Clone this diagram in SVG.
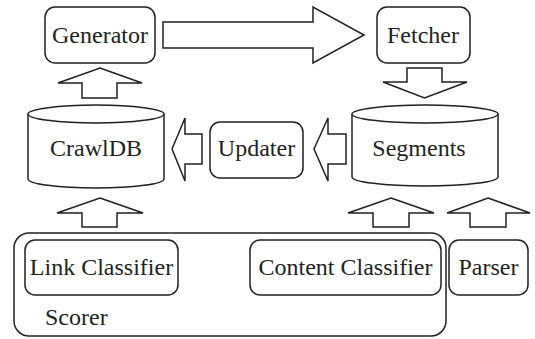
<svg xmlns="http://www.w3.org/2000/svg" width="535" height="339" viewBox="0 0 535 339">
<style>
.box{fill:#fff;stroke:#231f20;stroke-width:1.5}
.arr{fill:#fff;stroke:#231f20;stroke-width:1.5;stroke-linejoin:miter}
.lbl{font-family:"Liberation Serif","Times New Roman",serif;font-size:24px;fill:#231f20;text-anchor:middle}
.lft{text-anchor:start}
</style>
<rect width="535" height="339" fill="#fff"/>
<g id="connectors">
<polygon class="arr" points="163,22 313,22 313,7 364,35 313,63 313,48 163,48"/>
<polygon class="arr" points="407,68 442,68 442,82 467,82 424.5,98 383,82 407,82"/>
<polygon class="arr" points="100,68 142,83 117,83 117,98 82,98 82,83 58,83"/>
<polygon class="arr" points="172,149 185,118 185,134 202,134 202,164 185,164 185,181"/>
<polygon class="arr" points="314,149 328,118 328,134 346,134 346,164 328,164 328,181"/>
<polygon class="arr" points="100,198 143,213 117,213 117,227 82,227 82,213 57,213"/>
<polygon class="arr" points="391,198 434,213 409,213 409,227 373,227 373,213 348,213"/>
<polygon class="arr" points="488,198 530,213 506,213 506,227 470,227 470,213 447,213"/>
</g>
<g id="generator">
<rect class="box" x="45" y="7" width="110" height="56" rx="10"/>
<text class="lbl" x="100" y="43">Generator</text>
</g>
<g id="fetcher">
<rect class="box" x="377" y="7" width="93" height="56" rx="10"/>
<text class="lbl" x="423" y="43">Fetcher</text>
</g>
<g id="crawldb">
<path class="box" d="M28,114 L28,179 A68,9 0 0 0 164,179 L164,114"/>
<ellipse class="box" cx="96" cy="114" rx="68" ry="9"/>
<text class="lbl" x="96" y="156">CrawlDB</text>
</g>
<g id="updater">
<rect class="box" x="210" y="122" width="93" height="56" rx="10"/>
<text class="lbl" x="256.5" y="156">Updater</text>
</g>
<g id="segments">
<path class="box" d="M352,114 L352,177 A73,9 0 0 0 498,177 L498,114"/>
<ellipse class="box" cx="425" cy="114" rx="73" ry="9"/>
<text class="lbl" x="419" y="156">Segments</text>
</g>
<g id="scorer">
<rect class="box" x="14" y="233" width="432" height="103" rx="15"/>
<text class="lbl lft" x="45" y="325">Scorer</text>
</g>
<g id="link-classifier">
<rect class="box" x="25" y="240" width="153" height="55" rx="10"/>
<text class="lbl" x="101.5" y="275">Link Classifier</text>
</g>
<g id="content-classifier">
<rect class="box" x="250" y="240" width="191" height="55" rx="10"/>
<text class="lbl" x="345.5" y="275">Content Classifier</text>
</g>
<g id="parser">
<rect class="box" x="449" y="240" width="79" height="55" rx="10"/>
<text class="lbl" x="488.5" y="275">Parser</text>
</g>
</svg>
